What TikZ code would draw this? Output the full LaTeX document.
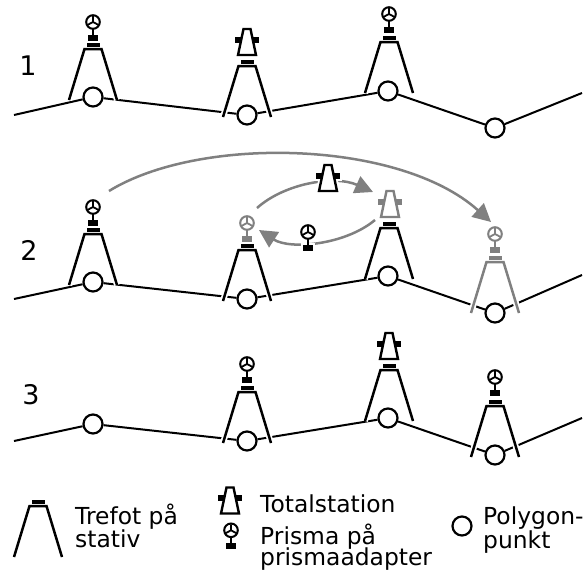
\documentclass[tikz,border=0pt]{standalone}
\usepackage{fontspec}
\setmainfont{DejaVu Sans}
\usetikzlibrary{arrows.meta}
\definecolor{gr}{HTML}{808080}
\tikzset{
  x=1pt,y=-1pt,
  pt/.style={circle,draw=black,fill=white,line width=2.2pt,minimum size=19pt,inner sep=0pt},
  ground/.style={line width=2pt,black},
  move/.style={line width=2.5pt,gr,-{Triangle[length=18pt,width=18pt]}},
  lab/.style={anchor=base west,font=\fontsize{23.4}{23.4}\selectfont,inner sep=0pt,align=left},
  num/.style={anchor=center,font=\fontsize{27}{27}\selectfont,inner sep=0pt},
  pics/tripod/.style={code={
    \draw[white,line width=6pt,line join=round] (-24,0)--(-8.5,-51)--(8.5,-51)--(24,0);
    \fill[white] (-8,-59.5) rectangle (8,-50);
    \draw[#1,line width=2.5pt,line join=miter] (-24,0)--(-8.5,-51)--(8.5,-51)--(24,0);
    \fill[#1] (-6.5,-57.5) rectangle (6.5,-53.5);
  }},
  pics/prism/.style={code={
    \fill[white] (-7,-67) rectangle (7,-57.5);
    \fill[white] (0,-78) circle (9.5);
    \fill[#1] (-5,-65.5) rectangle (5,-59.5);
    \draw[#1,line width=2.6pt] (0,-72) -- (0,-65);
    \draw[#1,line width=2pt,fill=white] (0,-78) circle (6.8);
    \draw[#1,line width=1.8pt] (0,-78) -- (0,-84) (0,-78) -- (-5.6,-75) (0,-78) -- (5.6,-75);
  }},
  pics/station/.style={code={
    \fill[white] (-14,-82.5) rectangle (14,-72.5);
    \draw[white,line width=6pt,line join=round] (-9,-62)--(-3.5,-88)--(3.5,-88)--(9,-62)--cycle;
    \fill[#1] (-12,-80.5) rectangle (12,-74.5);
    \draw[#1,line width=2.4pt,fill=white,line join=miter] (-9,-62)--(-3.5,-88)--(3.5,-88)--(9,-62)--cycle;
  }},
}
\begin{document}
\begin{tikzpicture}
\useasboundingbox[fill=white] (0,0) rectangle (584,571);

% survey points
\foreach \s/\ya/\yb/\yc/\yd/\ye/\yf in {a/115/97/115/91/128/93,b/299/282/299/276/313/275,c/441/424/441/418/455/418}{
  \coordinate (\s0) at (14,\ya);
  \node[pt] (\s1) at (93,\yb) {};
  \node[pt] (\s2) at (247,\yc) {};
  \node[pt] (\s3) at (388,\yd) {};
  \node[pt] (\s4) at (495,\ye) {};
  \coordinate (\s5) at (582,\yf);
  \draw[ground] (\s0) -- (\s1) -- (\s2) -- (\s3) -- (\s4) -- (\s5);
}

% moves
\coordinate (m1s) at (109,191);
\coordinate (m1e) at (491,222);
\coordinate (m2s) at (257,208);
\coordinate (m2e) at (373,192);
\coordinate (m3s) at (375,220);
\coordinate (m3e) at (259,230);
\draw[move] (m1s) .. controls (200,135) and (400,140) .. (m1e);
\draw[move] (m2s) .. controls (285,183) and (335,175) .. (m2e);
\draw[move] (m3s) .. controls (345,245) and (290,250) .. (m3e);

% row 1
\pic at (93,100) {tripod=black};
\pic at (93,100) {prism=black};
\pic at (247,117) {tripod=black};
\pic at (247,117) {station=black};
\pic at (389,93) {tripod=black};
\pic at (389,92) {prism=black};

% row 2
\pic at (93,285) {tripod=black};
\pic at (93,285) {prism=black};
\pic at (247,301) {prism=gr};
\pic at (247,301) {tripod=black};
\pic at (389,279) {tripod=black};
\pic at (390,279) {station=gr};
\pic at (495,313) {tripod=gr};
\pic at (495,312) {prism=gr};
\pic at (328,253) {station=black};
\pic at (308,310) {prism=black};

% row 3
\pic at (247,443) {tripod=black};
\pic at (247,442) {prism=black};
\pic at (389,421) {tripod=black};
\pic at (389,421) {station=black};
\pic at (495,457) {tripod=black};
\pic at (495,455) {prism=black};

% row numbers
\node[num] (n1) at (28,66) {1};
\node[num] (n2) at (29,250) {2};
\node[num] (n3) at (31,395) {3};

% legend
\pic at (38,557) {tripod=black};
\pic at (230,575.5) {station=black};
\begin{scope}[shift={(231,542)},scale=0.85]
  \pic at (0,78) {prism=black};
\end{scope}
\node[pt] (lp) at (462,526) {};
\node[lab] (t1) at (75,524) {Trefot på};
\node[lab] (t2) at (75,547) {stativ};
\node[lab] (t3) at (260,512) {Totalstation};
\node[lab] (t4) at (260,544) {Prisma på};
\node[lab] (t5) at (260,565) {prismaadapter};
\node[lab] (t6) at (483,524) {Polygon-};
\node[lab] (t7) at (483,548) {punkt};
\end{tikzpicture}
\end{document}
